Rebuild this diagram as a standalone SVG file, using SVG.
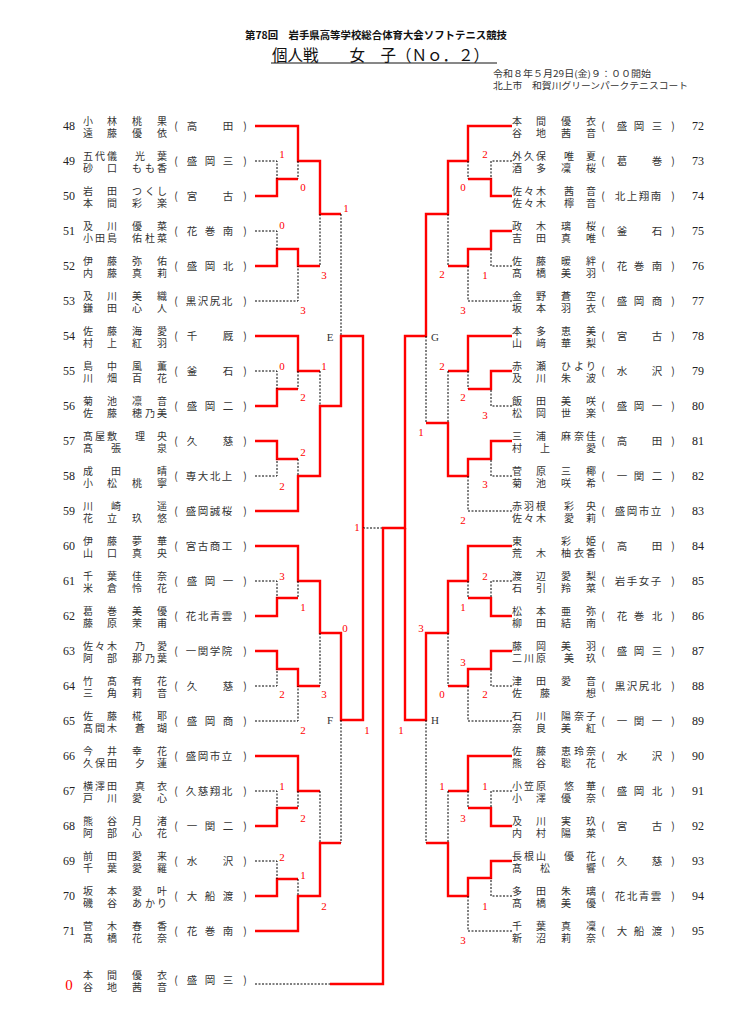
<svg xmlns="http://www.w3.org/2000/svg" width="755" height="1033" viewBox="0 0 755 1033">
<style>
.r{stroke:#f00;stroke-width:2.4;fill:none;stroke-linejoin:miter}
.d{stroke:#000;stroke-width:1;stroke-dasharray:2 1.5;fill:none}
.sc{fill:#f00;font-family:"Liberation Serif",serif;font-size:11px;text-anchor:middle}
.big{font-size:15px}
.nm{fill:#333;font-family:"Noto Sans CJK JP",sans-serif;font-size:10px;text-anchor:middle}
.sh{fill:#333;font-family:"Noto Sans CJK JP",sans-serif;font-size:10.5px;text-anchor:middle}
.no{fill:#222;font-family:"Liberation Serif",serif;font-size:12px;text-anchor:middle}
.lb{fill:#333;font-family:"Liberation Serif",serif;font-size:11px;text-anchor:middle}
</style>
<rect width="755" height="1033" fill="#fff"/>
<g id="header">
<text x="245" y="39" font-family="Noto Sans CJK JP,sans-serif" font-size="10.5" font-weight="bold" fill="#111" textLength="262" lengthAdjust="spacingAndGlyphs">第78回　岩手県高等学校総合体育大会ソフトテニス競技</text>
<text x="272" y="61" font-family="Noto Sans CJK JP,sans-serif" font-size="16" fill="#111" textLength="217" lengthAdjust="spacingAndGlyphs">個人戦　　女　子（Ｎｏ．２）</text>
<line x1="271" y1="63" x2="497" y2="63" stroke="#111" stroke-width="1"/>
<text x="493" y="77" font-family="Noto Sans CJK JP,sans-serif" font-size="9" fill="#333" textLength="158" lengthAdjust="spacingAndGlyphs">令和８年５月29日(金)９：００開始</text>
<text x="493" y="89" font-family="Noto Sans CJK JP,sans-serif" font-size="9" fill="#333" textLength="195" lengthAdjust="spacingAndGlyphs">北上市　和賀川グリーンパークテニスコート</text>
</g>
<g id="connectors">
<path class="r" d="M255 126H298V161H320V214H341"/>
<path class="r" d="M255 196H277V179H298"/>
<path class="r" d="M255 266H277V249H298V266H320"/>
<path class="d" d="M255 161H277V179M298 161V179M255 231H277V249M255 301H298V266M320 214V266M341 214V336"/>
<path class="r" d="M255 336H298V371H320"/>
<path class="r" d="M255 406H277V389H298"/>
<path class="r" d="M255 441H277V459H298"/>
<path class="r" d="M255 511H298V476H320V406H341V336H363V528"/>
<path class="d" d="M255 371H277V389M298 371V389M320 371V406M255 476H277V459M298 459V476"/>
<path class="d" d="M363 528H383"/>
<path class="r" d="M512 126H468V161H448V214H426V336H405V528H383V984H330"/>
<path class="r" d="M512 196H491V179H468"/>
<path class="r" d="M512 231H491V249H468V266H448"/>
<path class="d" d="M512 161H491V179M468 161V179M512 266H491V249M512 301H468V266M448 214V266"/>
<path class="r" d="M512 336H468V371H448"/>
<path class="r" d="M512 371H491V389H468"/>
<path class="r" d="M512 441H491V459H468V476H448V423H426"/>
<path class="d" d="M512 406H491V389M468 371V389M448 371V423M426 336V423M512 476H491V459M512 511H468V476"/>
<path class="r" d="M255 546H298V581H320V633H341V720H363V528"/>
<path class="r" d="M255 616H277V598H298"/>
<path class="r" d="M255 651H277V669H298V686H320"/>
<path class="d" d="M255 581H277V598M298 581V598M320 633V686M255 686H277V669M255 721H298V686"/>
<path class="r" d="M255 756H298V791H320"/>
<path class="r" d="M255 826H277V808H298"/>
<path class="r" d="M255 896H277V879H298"/>
<path class="r" d="M255 931H298V896H320V843H341"/>
<path class="d" d="M255 791H277V808M298 791V808M320 791V843M255 861H277V879M298 879V896M341 720V843"/>
<path class="r" d="M512 546H468V581H448V633H426V720H405V528"/>
<path class="r" d="M512 616H491V598H468"/>
<path class="r" d="M512 651H491V669H468V686H448"/>
<path class="d" d="M512 581H491V598M468 581V598M448 633V686M512 686H491V669M512 721H468V686"/>
<path class="r" d="M512 756H468V791H448"/>
<path class="r" d="M512 826H491V808H468"/>
<path class="r" d="M512 861H491V878H468V896H448V843H426"/>
<path class="d" d="M512 791H491V808M468 791V808M448 791V843M426 720V843M512 896H491V878M512 931H468V896"/>
<path class="d" d="M255 984H330"/>
</g>
<g id="labels">
<text class="lb" x="330" y="341">E</text>
<text class="lb" x="435" y="341">G</text>
<text class="lb" x="330" y="724">F</text>
<text class="lb" x="435" y="724">H</text>
</g>
<g id="scores">
<text class="sc" x="282" y="158">1</text><text class="sc" x="303" y="191">0</text><text class="sc" x="346" y="212">1</text>
<text class="sc" x="282" y="229">0</text><text class="sc" x="324" y="279">3</text><text class="sc" x="303" y="314">3</text>
<text class="sc" x="282" y="370">0</text><text class="sc" x="324" y="370">1</text><text class="sc" x="303" y="401">2</text>
<text class="sc" x="303" y="456">2</text><text class="sc" x="282" y="490">2</text><text class="sc" x="357" y="531">1</text>
<text class="sc" x="282" y="580">3</text><text class="sc" x="303" y="611">1</text><text class="sc" x="345" y="632">0</text>
<text class="sc" x="282" y="698">2</text><text class="sc" x="324" y="698">3</text><text class="sc" x="303" y="734">2</text>
<text class="sc" x="367" y="734">1</text><text class="sc" x="282" y="790">1</text><text class="sc" x="303" y="822">2</text>
<text class="sc" x="282" y="861">2</text><text class="sc" x="303" y="879">1</text><text class="sc" x="324" y="910">2</text>
<text class="sc" x="485" y="158">2</text><text class="sc" x="463" y="191">0</text><text class="sc" x="442" y="278">2</text>
<text class="sc" x="485" y="279">1</text><text class="sc" x="463" y="314">3</text><text class="sc" x="442" y="370">2</text>
<text class="sc" x="463" y="401">2</text><text class="sc" x="485" y="419">3</text><text class="sc" x="421" y="436">1</text>
<text class="sc" x="485" y="488">3</text><text class="sc" x="463" y="524">2</text><text class="sc" x="485" y="580">2</text>
<text class="sc" x="463" y="611">1</text><text class="sc" x="421" y="632">3</text><text class="sc" x="463" y="666">3</text>
<text class="sc" x="442" y="698">0</text><text class="sc" x="485" y="698">2</text><text class="sc" x="401" y="734">1</text>
<text class="sc" x="442" y="790">1</text><text class="sc" x="485" y="790">1</text><text class="sc" x="463" y="822">3</text>
<text class="sc" x="485" y="910">1</text><text class="sc" x="463" y="944">3</text>
</g>
<g id="p48"><text class="no" x="69" y="130">48</text><text class="nm"><tspan x="88 112 137 162" y="125">小林桃果</tspan><tspan x="88 112 137 162" y="136.5">遠藤優依</tspan></text><text class="sh" x="176 192 228 245" y="130">(高田)</text></g>
<g id="p49"><text class="no" x="69" y="165">49</text><text class="nm"><tspan x="88 100 112 140 162" y="160">五代儀光葉</tspan><tspan x="88 112 137 150 162" y="171.5">砂口もも香</tspan></text><text class="sh" x="176 192 210 228 245" y="165">(盛岡三)</text></g>
<g id="p50"><text class="no" x="69" y="200">50</text><text class="nm"><tspan x="88 112 137 150 162" y="195">岩田つくし</tspan><tspan x="88 112 137 162" y="206.5">本間彩楽</tspan></text><text class="sh" x="176 192 228 245" y="200">(宮古)</text></g>
<g id="p51"><text class="no" x="69" y="235">51</text><text class="nm"><tspan x="88 112 137 162" y="230">及川優菜</tspan><tspan x="88 100 112 137 150 162" y="241.5">小田島佑杜菜</tspan></text><text class="sh" x="176 192 210 228 245" y="235">(花巻南)</text></g>
<g id="p52"><text class="no" x="69" y="270">52</text><text class="nm"><tspan x="88 112 137 162" y="265">伊藤弥佑</tspan><tspan x="88 112 137 162" y="276.5">内藤真莉</tspan></text><text class="sh" x="176 192 210 228 245" y="270">(盛岡北)</text></g>
<g id="p53"><text class="no" x="69" y="305">53</text><text class="nm"><tspan x="88 112 137 162" y="300">及川美織</tspan><tspan x="88 112 137 162" y="311.5">鎌田心人</tspan></text><text class="sh" x="176 191 203 215 227 245" y="305">(黒沢尻北)</text></g>
<g id="p54"><text class="no" x="69" y="340">54</text><text class="nm"><tspan x="88 112 137 162" y="335">佐藤海愛</tspan><tspan x="88 112 137 162" y="346.5">村上紅羽</tspan></text><text class="sh" x="176 192 228 245" y="340">(千厩)</text></g>
<g id="p55"><text class="no" x="69" y="375">55</text><text class="nm"><tspan x="88 112 137 162" y="370">島中風薫</tspan><tspan x="88 112 137 162" y="381.5">川畑百花</tspan></text><text class="sh" x="176 192 228 245" y="375">(釜石)</text></g>
<g id="p56"><text class="no" x="69" y="410">56</text><text class="nm"><tspan x="88 112 137 162" y="405">菊池凛音</tspan><tspan x="88 112 137 150 162" y="416.5">佐藤穂乃美</tspan></text><text class="sh" x="176 192 210 228 245" y="410">(盛岡二)</text></g>
<g id="p57"><text class="no" x="69" y="445">57</text><text class="nm"><tspan x="88 100 112 140 162" y="440">髙屋敷理央</tspan><tspan x="88 116 162" y="451.5">髙張泉</tspan></text><text class="sh" x="176 192 228 245" y="445">(久慈)</text></g>
<g id="p58"><text class="no" x="69" y="480">58</text><text class="nm"><tspan x="88 116 162" y="475">成田晴</tspan><tspan x="88 112 137 162" y="486.5">小松桃寧</tspan></text><text class="sh" x="176 191 203 215 227 245" y="480">(専大北上)</text></g>
<g id="p59"><text class="no" x="69" y="515">59</text><text class="nm"><tspan x="88 116 162" y="510">川崎遥</tspan><tspan x="88 112 137 162" y="521.5">花立玖悠</tspan></text><text class="sh" x="176 191 203 215 227 245" y="515">(盛岡誠桜)</text></g>
<g id="p60"><text class="no" x="69" y="550">60</text><text class="nm"><tspan x="88 112 137 162" y="545">伊藤夢華</tspan><tspan x="88 112 137 162" y="556.5">山口真央</tspan></text><text class="sh" x="176 191 203 215 227 245" y="550">(宮古商工)</text></g>
<g id="p61"><text class="no" x="69" y="585">61</text><text class="nm"><tspan x="88 112 137 162" y="580">千葉佳奈</tspan><tspan x="88 112 137 162" y="591.5">米倉怜花</tspan></text><text class="sh" x="176 192 210 228 245" y="585">(盛岡一)</text></g>
<g id="p62"><text class="no" x="69" y="620">62</text><text class="nm"><tspan x="88 112 137 162" y="615">葛巻美優</tspan><tspan x="88 112 137 162" y="626.5">藤原茉甫</tspan></text><text class="sh" x="176 191 203 215 227 245" y="620">(花北青雲)</text></g>
<g id="p63"><text class="no" x="69" y="655">63</text><text class="nm"><tspan x="88 100 112 140 162" y="650">佐々木乃愛</tspan><tspan x="88 112 137 150 162" y="661.5">阿部那乃葉</tspan></text><text class="sh" x="176 191 203 215 227 245" y="655">(一関学院)</text></g>
<g id="p64"><text class="no" x="69" y="690">64</text><text class="nm"><tspan x="88 112 137 162" y="685">竹髙宥花</tspan><tspan x="88 112 137 162" y="696.5">三角莉音</tspan></text><text class="sh" x="176 192 228 245" y="690">(久慈)</text></g>
<g id="p65"><text class="no" x="69" y="725">65</text><text class="nm"><tspan x="88 112 137 162" y="720">佐藤椛耶</tspan><tspan x="88 100 112 140 162" y="731.5">髙間木蒼瑚</tspan></text><text class="sh" x="176 192 210 228 245" y="725">(盛岡商)</text></g>
<g id="p66"><text class="no" x="69" y="760">66</text><text class="nm"><tspan x="88 112 137 162" y="755">今井幸花</tspan><tspan x="88 100 112 140 162" y="766.5">久保田夕蓮</tspan></text><text class="sh" x="176 191 203 215 227 245" y="760">(盛岡市立)</text></g>
<g id="p67"><text class="no" x="69" y="795">67</text><text class="nm"><tspan x="88 100 112 140 162" y="790">横澤田真衣</tspan><tspan x="88 112 137 162" y="801.5">戸川愛心</tspan></text><text class="sh" x="176 191 203 215 227 245" y="795">(久慈翔北)</text></g>
<g id="p68"><text class="no" x="69" y="830">68</text><text class="nm"><tspan x="88 112 137 162" y="825">熊谷月渚</tspan><tspan x="88 112 137 162" y="836.5">阿部心花</tspan></text><text class="sh" x="176 192 210 228 245" y="830">(一関二)</text></g>
<g id="p69"><text class="no" x="69" y="865">69</text><text class="nm"><tspan x="88 112 137 162" y="860">前田愛来</tspan><tspan x="88 112 137 162" y="871.5">千葉愛羅</tspan></text><text class="sh" x="176 192 228 245" y="865">(水沢)</text></g>
<g id="p70"><text class="no" x="69" y="900">70</text><text class="nm"><tspan x="88 112 137 162" y="895">坂本愛叶</tspan><tspan x="88 112 137 150 162" y="906.5">磯谷あかり</tspan></text><text class="sh" x="176 192 210 228 245" y="900">(大船渡)</text></g>
<g id="p71"><text class="no" x="69" y="935">71</text><text class="nm"><tspan x="88 112 137 162" y="930">菅木春香</tspan><tspan x="88 112 137 162" y="941.5">髙橋花奈</tspan></text><text class="sh" x="176 192 210 228 245" y="935">(花巻南)</text></g>
<g id="p0"><text class="sc big" x="69" y="990">0</text><text class="nm"><tspan x="88 112 137 162" y="979">本間優衣</tspan><tspan x="88 112 137 162" y="990.5">谷地茜音</tspan></text><text class="sh" x="176 192 210 228 245" y="984">(盛岡三)</text></g>
<g id="p72"><text class="no" x="698" y="130">72</text><text class="nm"><tspan x="517 541 566 591" y="125">本間優衣</tspan><tspan x="517 541 566 591" y="136.5">谷地茜音</tspan></text><text class="sh" x="603 622 639 657 673" y="130">(盛岡三)</text></g>
<g id="p73"><text class="no" x="698" y="165">73</text><text class="nm"><tspan x="517 529 541 569 591" y="160">外久保唯夏</tspan><tspan x="517 541 566 591" y="171.5">酒多凜桜</tspan></text><text class="sh" x="603 622 657 673" y="165">(葛巻)</text></g>
<g id="p74"><text class="no" x="698" y="200">74</text><text class="nm"><tspan x="517 529 541 569 591" y="195">佐々木茜音</tspan><tspan x="517 529 541 569 591" y="206.5">佐々木檸音</tspan></text><text class="sh" x="603 620 632 644 656 673" y="200">(北上翔南)</text></g>
<g id="p75"><text class="no" x="698" y="235">75</text><text class="nm"><tspan x="517 541 566 591" y="230">政木璃桜</tspan><tspan x="517 541 566 591" y="241.5">吉田真唯</tspan></text><text class="sh" x="603 622 657 673" y="235">(釜石)</text></g>
<g id="p76"><text class="no" x="698" y="270">76</text><text class="nm"><tspan x="517 541 566 591" y="265">佐藤暖絆</tspan><tspan x="517 541 566 591" y="276.5">髙橋美羽</tspan></text><text class="sh" x="603 622 639 657 673" y="270">(花巻南)</text></g>
<g id="p77"><text class="no" x="698" y="305">77</text><text class="nm"><tspan x="517 541 566 591" y="300">金野蒼空</tspan><tspan x="517 541 566 591" y="311.5">坂本羽衣</tspan></text><text class="sh" x="603 622 639 657 673" y="305">(盛岡商)</text></g>
<g id="p78"><text class="no" x="698" y="340">78</text><text class="nm"><tspan x="517 541 566 591" y="335">本多恵美</tspan><tspan x="517 541 566 591" y="346.5">山﨑華梨</tspan></text><text class="sh" x="603 622 657 673" y="340">(宮古)</text></g>
<g id="p79"><text class="no" x="698" y="375">79</text><text class="nm"><tspan x="517 541 566 579 591" y="370">赤瀬ひより</tspan><tspan x="517 541 566 591" y="381.5">及川朱波</tspan></text><text class="sh" x="603 622 657 673" y="375">(水沢)</text></g>
<g id="p80"><text class="no" x="698" y="410">80</text><text class="nm"><tspan x="517 541 566 591" y="405">飯田美咲</tspan><tspan x="517 541 566 591" y="416.5">松岡世楽</tspan></text><text class="sh" x="603 622 639 657 673" y="410">(盛岡一)</text></g>
<g id="p81"><text class="no" x="698" y="445">81</text><text class="nm"><tspan x="517 541 566 579 591" y="440">三浦麻奈佳</tspan><tspan x="517 545 591" y="451.5">村上愛</tspan></text><text class="sh" x="603 622 657 673" y="445">(高田)</text></g>
<g id="p82"><text class="no" x="698" y="480">82</text><text class="nm"><tspan x="517 541 566 591" y="475">菅原三椰</tspan><tspan x="517 541 566 591" y="486.5">菊池咲希</tspan></text><text class="sh" x="603 622 639 657 673" y="480">(一関二)</text></g>
<g id="p83"><text class="no" x="698" y="515">83</text><text class="nm"><tspan x="517 529 541 569 591" y="510">赤羽根彩央</tspan><tspan x="517 529 541 569 591" y="521.5">佐々木愛莉</tspan></text><text class="sh" x="603 620 632 644 656 673" y="515">(盛岡市立)</text></g>
<g id="p84"><text class="no" x="698" y="550">84</text><text class="nm"><tspan x="517 566 591" y="545">東彩姫</tspan><tspan x="517 541 566 579 591" y="556.5">荒木柚衣香</tspan></text><text class="sh" x="603 622 657 673" y="550">(高田)</text></g>
<g id="p85"><text class="no" x="698" y="585">85</text><text class="nm"><tspan x="517 541 566 591" y="580">渡辺愛梨</tspan><tspan x="517 541 566 591" y="591.5">石引羚菜</tspan></text><text class="sh" x="603 620 632 644 656 673" y="585">(岩手女子)</text></g>
<g id="p86"><text class="no" x="698" y="620">86</text><text class="nm"><tspan x="517 541 566 591" y="615">松本亜弥</tspan><tspan x="517 541 566 591" y="626.5">柳田結南</tspan></text><text class="sh" x="603 622 639 657 673" y="620">(花巻北)</text></g>
<g id="p87"><text class="no" x="698" y="655">87</text><text class="nm"><tspan x="517 541 566 591" y="650">藤岡美羽</tspan><tspan x="517 529 541 569 591" y="661.5">二川原美玖</tspan></text><text class="sh" x="603 622 639 657 673" y="655">(盛岡三)</text></g>
<g id="p88"><text class="no" x="698" y="690">88</text><text class="nm"><tspan x="517 541 566 591" y="685">津田愛音</tspan><tspan x="517 545 591" y="696.5">佐藤想</tspan></text><text class="sh" x="603 620 632 644 656 673" y="690">(黒沢尻北)</text></g>
<g id="p89"><text class="no" x="698" y="725">89</text><text class="nm"><tspan x="517 541 566 579 591" y="720">石川陽奈子</tspan><tspan x="517 541 566 591" y="731.5">奈良美紅</tspan></text><text class="sh" x="603 622 639 657 673" y="725">(一関一)</text></g>
<g id="p90"><text class="no" x="698" y="760">90</text><text class="nm"><tspan x="517 541 566 579 591" y="755">佐藤恵玲奈</tspan><tspan x="517 541 566 591" y="766.5">熊谷聡花</tspan></text><text class="sh" x="603 622 657 673" y="760">(水沢)</text></g>
<g id="p91"><text class="no" x="698" y="795">91</text><text class="nm"><tspan x="517 529 541 569 591" y="790">小笠原悠華</tspan><tspan x="517 541 566 591" y="801.5">小澤優奈</tspan></text><text class="sh" x="603 622 639 657 673" y="795">(盛岡北)</text></g>
<g id="p92"><text class="no" x="698" y="830">92</text><text class="nm"><tspan x="517 541 566 591" y="825">及川実玖</tspan><tspan x="517 541 566 591" y="836.5">内村陽菜</tspan></text><text class="sh" x="603 622 657 673" y="830">(宮古)</text></g>
<g id="p93"><text class="no" x="698" y="865">93</text><text class="nm"><tspan x="517 529 541 569 591" y="860">長根山優花</tspan><tspan x="517 545 591" y="871.5">髙松響</tspan></text><text class="sh" x="603 622 657 673" y="865">(久慈)</text></g>
<g id="p94"><text class="no" x="698" y="900">94</text><text class="nm"><tspan x="517 541 566 591" y="895">多田朱璃</tspan><tspan x="517 541 566 591" y="906.5">髙橋美優</tspan></text><text class="sh" x="603 620 632 644 656 673" y="900">(花北青雲)</text></g>
<g id="p95"><text class="no" x="698" y="935">95</text><text class="nm"><tspan x="517 541 566 591" y="930">千葉真凜</tspan><tspan x="517 541 566 591" y="941.5">新沼莉奈</tspan></text><text class="sh" x="603 622 639 657 673" y="935">(大船渡)</text></g>
</svg>
